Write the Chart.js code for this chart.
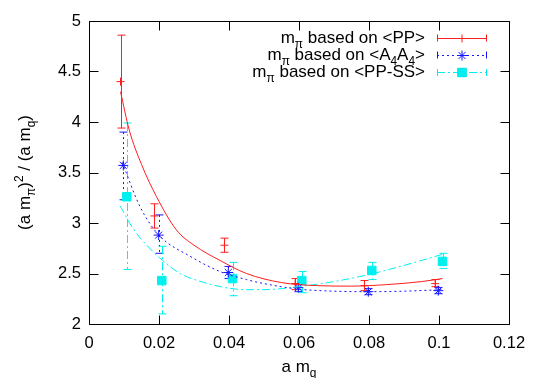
<!DOCTYPE html>
<html>
<head>
<meta charset="utf-8">
<script src="https://cdn.jsdelivr.net/npm/chart.js@4/dist/chart.umd.min.js"></script>
<style>
  html, body { margin: 0; padding: 0; background: #fff; }
  #wrap { width: 538px; height: 378px; }
</style>
</head>
<body>
<div id="wrap"><canvas id="chart" width="538" height="378"></canvas></div>
<script>
// ticks
const xTicks = [0, 0.02, 0.04, 0.06, 0.08, 0.1, 0.12];
const yTicks = [2, 2.5, 3, 3.5, 4, 4.5, 5];

// m_pi based on <PP>
const xPP = [0.009, 0.0187, 0.0387, 0.0589, 0.0787, 0.0989];
const yPP = [4.40, 3.07, 2.78, 2.40, 2.38, 2.40];
const hiPP = [4.86, 3.19, 2.85, 2.45, 2.43, 2.44];
const loPP = [3.94, 2.95, 2.71, 2.34, 2.33, 2.37];

// m_pi based on <A4A4>
const xAA = [0.0098, 0.0199, 0.0398, 0.0598, 0.0798, 0.0998];
const yAA = [3.57, 2.88, 2.51, 2.36, 2.32, 2.33];
const hiAA = [3.90, 3.08, 2.57, 2.40, 2.35, 2.36];
const loAA = [3.23, 2.70, 2.45, 2.32, 2.29, 2.30];

// m_pi based on <PP-SS>
const xSS = [0.0108, 0.0208, 0.041, 0.0608, 0.0808, 0.101];
const ySS = [3.26, 2.43, 2.45, 2.43, 2.53, 2.62];
const hiSS = [3.99, 2.77, 2.61, 2.52, 2.61, 2.70];
const loSS = [2.54, 2.10, 2.28, 2.31, 2.44, 2.55];

// fit curves
const fitPPx = [0.009, 0.0115, 0.015, 0.0193, 0.025, 0.03, 0.0374, 0.045, 0.055, 0.065, 0.075, 0.085, 0.095, 0.101];
const fitPPy = [4.30, 3.92, 3.58, 3.26, 2.93, 2.78, 2.63, 2.50, 2.41, 2.38, 2.375, 2.39, 2.42, 2.45];
const fitAAx = [0.0095, 0.0146, 0.02, 0.0289, 0.0374, 0.045, 0.05, 0.06, 0.07, 0.08, 0.09, 0.101];
const fitAAy = [3.60, 3.16, 2.88, 2.67, 2.52, 2.44, 2.40, 2.345, 2.325, 2.32, 2.325, 2.34];
const fitSSx = [0.0089, 0.0125, 0.0165, 0.021, 0.026, 0.032, 0.039, 0.045, 0.05, 0.055, 0.06, 0.07, 0.08, 0.09, 0.101];
const fitSSy = [3.17, 2.95, 2.78, 2.63, 2.50, 2.42, 2.36, 2.34, 2.34, 2.35, 2.37, 2.42, 2.49, 2.58, 2.69];

const RED = "rgb(255,30,30)";
const BLUE = "rgb(20,20,255)";
const CYAN = "rgb(0,240,240)";
const FONT = '"Liberation Sans", Arial, sans-serif';
const TICK_SIZE = 16.5;
const TEXT_SIZE = 17;

const toPts = (xs, ys) => xs.map((v, i) => ({ x: v, y: ys[i] }));

const series = [
  { label: "<PP>", parts: [["m"], ["\u03c0", "sub"], [" based on <PP>"]],
    xs: xPP, ys: yPP, lo: loPP, hi: hiPP, color: RED, dash: [], pointStyle: "cross", r: 4 },
  { label: "<A4A4>", parts: [["m"], ["\u03c0", "sub"], [" based on <A"], ["4", "sub"], ["A"], ["4", "sub"], [">"]],
    xs: xAA, ys: yAA, lo: loAA, hi: hiAA, color: BLUE, dash: [2, 3], pointStyle: "star", r: 5 },
  { label: "<PP-SS>", parts: [["m"], ["\u03c0", "sub"], [" based on <PP-SS>"]],
    xs: xSS, ys: ySS, lo: loSS, hi: hiSS, color: CYAN, dash: [8, 3, 2, 3], pointStyle: "rect", r: 6 },
];
const fits = [[fitPPx, fitPPy], [fitAAx, fitAAy], [fitSSx, fitSSy]];

/**
 * width of text with sub/superscripts
 */
const richWidth = (ctx, parts, size) => {
  let w = 0;
  parts.forEach(([t, s]) => {
    ctx.font = `${s ? size * 0.7 : size}px ${FONT}`;
    w += ctx.measureText(t).width;
  });
  return w;
};
const drawRich = (ctx, parts, x, y, size, align) => {
  let cx = align === "right" ? x - richWidth(ctx, parts, size)
    : align === "center" ? x - richWidth(ctx, parts, size) / 2 : x;
  ctx.textAlign = "left";
  ctx.textBaseline = "alphabetic";
  parts.forEach(([t, s]) => {
    ctx.font = `${s ? size * 0.7 : size}px ${FONT}`;
    const dy = s === "sub" ? size * 0.3 : s === "sup" ? -size * 0.42 : 0;
    ctx.fillText(t, cx, y + dy);
    cx += ctx.measureText(t).width;
  });
};

const errBars = {
  id: "errBars",
  beforeDatasetsDraw(chart) {
    const { ctx, scales: { x, y } } = chart;
    series.forEach((s) => {
      ctx.save();
      ctx.strokeStyle = s.color;
      ctx.lineWidth = 1;
      ctx.setLineDash(s.dash);
      s.xs.forEach((v, i) => {
        const px = Math.round(x.getPixelForValue(v)) + 0.5;
        const top = y.getPixelForValue(s.hi[i]);
        const bot = y.getPixelForValue(s.lo[i]);
        ctx.beginPath();
        ctx.moveTo(px, top);
        ctx.lineTo(px, bot);
        ctx.stroke();
        ctx.setLineDash([]);
        ctx.beginPath();
        ctx.moveTo(px - 4, top); ctx.lineTo(px + 4, top);
        ctx.moveTo(px - 4, bot); ctx.lineTo(px + 4, bot);
        ctx.stroke();
        ctx.setLineDash(s.dash);
      });
      ctx.restore();
    });
  },
  afterDraw(chart) {
    const { ctx, chartArea: a, scales: { x, y } } = chart;
    ctx.save();
    // frame + inward ticks on all four sides
    ctx.strokeStyle = "#000";
    ctx.lineWidth = 1;
    const L = Math.round(a.left) + 0.5, R = Math.round(a.right) + 0.5;
    const T = Math.round(a.top) + 0.5, B = Math.round(a.bottom) + 0.5;
    ctx.beginPath();
    ctx.rect(L, T, R - L, B - T);
    xTicks.forEach((v) => {
      const px = Math.round(x.getPixelForValue(v)) + 0.5;
      ctx.moveTo(px, B); ctx.lineTo(px, B - 9);
      ctx.moveTo(px, T); ctx.lineTo(px, T + 9);
    });
    yTicks.forEach((v) => {
      const py = Math.round(y.getPixelForValue(v)) + 0.5;
      ctx.moveTo(L, py); ctx.lineTo(L + 9, py);
      ctx.moveTo(R, py); ctx.lineTo(R - 9, py);
    });
    ctx.stroke();

    // axis titles
    ctx.fillStyle = "#000";
    drawRich(ctx, [["a m"], ["q", "sub"]], (a.left + a.right) / 2, 372, TEXT_SIZE, "center");
    ctx.translate(30, (a.top + a.bottom) / 2);
    ctx.rotate(-Math.PI / 2);
    drawRich(ctx, [["(a m"], ["\u03c0", "sub"], [")"], ["2", "sup"], [" / (a m"], ["q", "sub"], [")"]], 0, 0, TEXT_SIZE, "center");
    ctx.restore();

    // key
    ctx.save();
    const rows = [37.5, 54.5, 72];
    series.forEach((s, i) => {
      const ly = rows[i];
      ctx.fillStyle = "#000";
      drawRich(ctx, s.parts, 425, ly + 5, TEXT_SIZE, "right");
      ctx.strokeStyle = s.color;
      ctx.lineWidth = 1;
      ctx.setLineDash(s.dash);
      ctx.beginPath();
      ctx.moveTo(437, Math.round(ly) + 0.5);
      ctx.lineTo(487, Math.round(ly) + 0.5);
      ctx.stroke();
      ctx.setLineDash([]);
      ctx.beginPath();
      ctx.moveTo(437.5, ly - 3); ctx.lineTo(437.5, ly + 4);
      ctx.moveTo(486.5, ly - 3); ctx.lineTo(486.5, ly + 4);
      ctx.stroke();
      Chart.helpers.drawPoint(ctx, {
        pointStyle: s.pointStyle, radius: s.r, borderWidth: 1, rotation: 0,
      }, 462, Math.round(ly) + 0.5);
      ctx.fillStyle = s.color;
      if (s.pointStyle === "rect") ctx.fill();
    });
    ctx.restore();
  },
};

const datasets = [];
fits.forEach(([fx, fy], i) => {
  datasets.push({
    type: "line",
    data: toPts(fx, fy),
    borderColor: series[i].color,
    borderWidth: 1,
    borderDash: series[i].dash,
    pointRadius: 0,
    fill: false,
    cubicInterpolationMode: "monotone",
  });
});
series.forEach((s) => {
  datasets.push({
    type: "scatter",
    data: toPts(s.xs, s.ys),
    pointStyle: s.pointStyle,
    pointRadius: s.r,
    borderColor: s.color,
    backgroundColor: s.color,
    borderWidth: 1,
  });
});

new Chart(document.getElementById("chart").getContext("2d"), {
  type: "scatter",
  data: { datasets },
  plugins: [errBars],
  options: {
    responsive: false,
    animation: false,
    events: [],
    layout: { padding: { top: 21, right: 29, left: 0, bottom: 0 } },
    plugins: { legend: { display: false }, tooltip: { enabled: false } },
    scales: {
      x: {
        type: "linear", min: 0, max: 0.12,
        afterBuildTicks: (s) => { s.ticks = xTicks.map((v) => ({ value: v })); },
        afterFit: (s) => { s.height = 54; },
        grid: { display: false, drawTicks: false },
        border: { display: false },
        ticks: { padding: 10, color: "#000", font: { family: FONT, size: TICK_SIZE },
          callback: (v) => String(+v.toFixed(2)) },
      },
      y: {
        type: "linear", min: 2, max: 5,
        afterBuildTicks: (s) => { s.ticks = yTicks.map((v) => ({ value: v })); },
        afterFit: (s) => { s.width = 89; },
        grid: { display: false, drawTicks: false },
        border: { display: false },
        ticks: { padding: 8, color: "#000", font: { family: FONT, size: TICK_SIZE },
          callback: (v) => String(+v.toFixed(1)) },
      },
    },
  },
});
</script>
</body>
</html>
